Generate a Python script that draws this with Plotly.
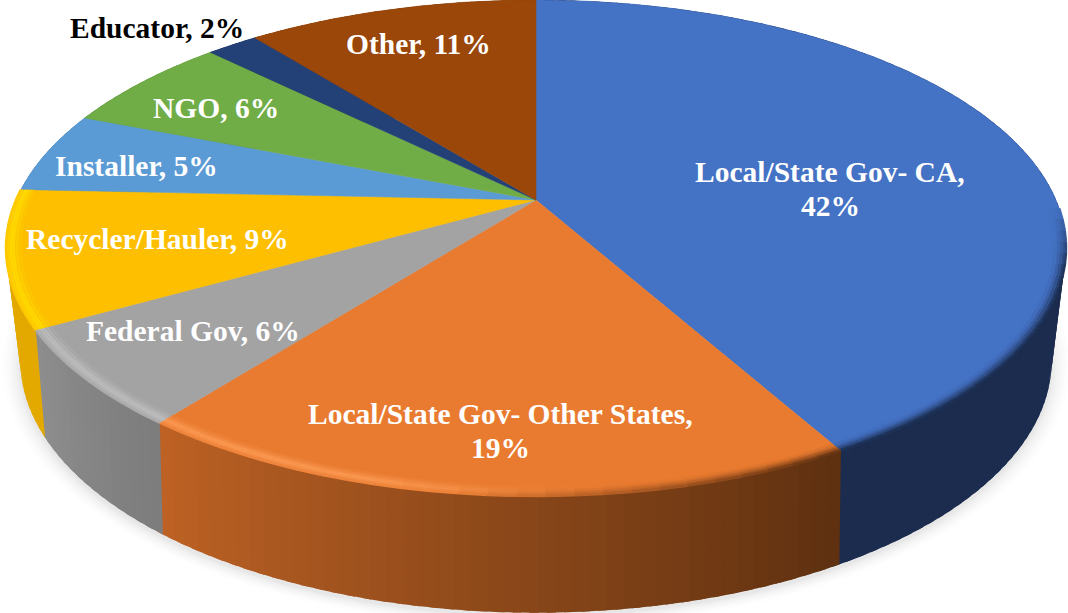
import numpy as np
import plotly.graph_objects as go

categories = ["Local/State Gov- CA", "Local/State Gov- Other States", "Federal Gov",
              "Recycler/Hauler", "Installer", "NGO", "Educator", "Other"]
values = [41.9, 18.6, 6.3, 8.9, 5.3, 6.4, 1.9, 10.7]
top_colors = ["#4472C4", "#E97B30", "#A3A3A3", "#FDBF00", "#5B9BD5", "#70AD47", "#234176", "#9A4709"]
side_left = ["#1B2C4F", "#BE6224", "#8E8E8E", "#E3A900", "#3F76A8", "#4F7C32", "#1A2F55", "#6F3307"]
side_right = ["#1B2C4F", "#5E3010", "#7C7C7C", "#E3A900", "#3F76A8", "#4F7C32", "#1A2F55", "#6F3307"]
hi_colors = ["#4472C4", "#F9954E", "#BABABA", "#FFD800"]
dark_colors = ["#1B2C4F", "#5E3010", "#8A8A8A", "#E3A900"]

# label text is placed as the reference places it (free-floating, not at slice centres)
label_pos = [(830, 172), (500, 414), (193, 331), (157, 239), (136, 166), (216, 108), (157, 28), (418, 44)]
label_break = [True, True, False, False, False, False, False, False]
label_color = ["white"] * 6 + ["black", "white"]
FONT_SIZE = 29.5
LINE_GAP = 34

# projection of the tilted disc: top face, then the lower rim of the wall
TOP = dict(cx=536.0, cy=200.0, a=520.0, b=238.7, p=0.1935)
BOT = dict(cx=536.0, cy=305.0, a=503.0, b=240.0, p=0.22)


def project(theta, g, r=1.0, grow=1.0):
    u, v = r * np.sin(theta), -r * np.cos(theta)
    w = 1 - g["p"] * v
    return g["cx"] + grow * g["a"] * u / w, g["cy"] + grow * g["b"] * v / w


def rgb(h):
    return np.array([int(h[i:i + 2], 16) for i in (1, 3, 5)], float)


def css(c):
    return "rgb(%d,%d,%d)" % tuple(np.round(c))


fig = go.Figure()


def poly(xs, ys, fill, line=None, lw=1.0):
    fig.add_trace(go.Scatter(x=list(xs), y=list(ys), mode="lines", fill="toself", fillcolor=fill,
                             line=dict(color=line or fill, width=lw), hoverinfo="skip", showlegend=False))


edges = np.cumsum([0] + values) / sum(values) * 2 * np.pi

# soft shadow under the disc
th = np.linspace(0, 2 * np.pi, 240)
for grow, op in [(1.034, 0.012), (1.027, 0.016), (1.020, 0.02), (1.014, 0.024), (1.008, 0.028), (1.003, 0.03)]:
    x, y = project(th, BOT, grow=grow)
    poly(x, y + 3, "rgba(70,70,70,%g)" % op, line="rgba(0,0,0,0)", lw=0)

# side wall: each quad runs a little under the next one, so no seams show
OVERLAP = np.radians(0.8)
for i in range(len(values)):
    a0, a1 = edges[i], edges[i + 1]
    n = max(2, int((a1 - a0) / np.radians(1.5)))
    ed = np.linspace(a0, a1, n + 1)
    for k in range(n):
        t = (k + 0.5) / n
        c = css(rgb(side_right[i]) * (1 - t) + rgb(side_left[i]) * t)
        sub = np.linspace(ed[k], ed[k + 1] + OVERLAP, 4)
        x1, y1 = project(sub, TOP)
        x2, y2 = project(sub[::-1], BOT)
        fig.add_trace(go.Scatter(x=np.r_[x1, x2, x1[0]], y=np.r_[y1, y2, y1[0]], mode="none", fill="toself",
                                 fillcolor=c, hoverinfo="skip", showlegend=False))

# top face
for i in range(len(values)):
    t = np.linspace(edges[i], edges[i + 1], max(10, int(values[i] * 6)))
    x, y = project(t, TOP)
    poly(np.r_[TOP["cx"], x, TOP["cx"]], np.r_[TOP["cy"], y, TOP["cy"]], top_colors[i], lw=0.5)

# bevel on the near edge of the top face: radius, highlight weight, shadow weight
bands = [(0.974, 0.2, 0.0), (0.980, 0.55, 0.08), (0.986, 0.95, 0.25), (0.991, 1.0, 0.5), (0.996, 0.7, 0.75), (1.0, 0.4, 0.95)]
for i in range(4):
    a0, a1 = edges[i], edges[i + 1]
    a0b = max(a0, np.radians(92))
    n = max(2, int((a1 - a0b) / np.radians(2.5)))
    ed = np.linspace(a0b, a1, n + 1)
    for r, hw, dw in bands:
        for k in range(n):
            f = (k + 0.5) / n
            if i == 0:
                hi_s, dk_s = 0.0, min(1.0, (f / 0.25))
            elif i == 1:
                hi_s, dk_s = np.clip((f - 0.35) / 0.3, 0, 1), np.clip(1 - f / 0.55, 0, 1)
            else:
                hi_s, dk_s = 1.0, 0.0
            c = rgb(top_colors[i])
            c = c + (rgb(hi_colors[i]) - c) * hw * hi_s
            c = c + (rgb(dark_colors[i]) - c) * dw * dk_s
            x, y = project(np.linspace(ed[k], ed[k + 1], 3), TOP, r=r)
            fig.add_trace(go.Scatter(x=x, y=y, mode="lines", line=dict(color=css(c), width=2.6),
                                     hoverinfo="skip", showlegend=False))

# labels
for i, (c, v) in enumerate(zip(categories, values)):
    pct = f"{round(v)}%"
    lines = [f"{c},", pct] if label_break[i] else [f"{c}, {pct}"]
    for j, txt in enumerate(lines):
        fig.add_annotation(x=label_pos[i][0], y=label_pos[i][1] + j * LINE_GAP, text=f"<b>{txt}</b>",
                           showarrow=False, xanchor="center", yanchor="middle", align="center",
                           font=dict(family="Liberation Serif", size=FONT_SIZE, color=label_color[i]))

fig.update_layout(width=1068, height=613, margin=dict(l=0, r=0, t=0, b=0),
                  paper_bgcolor="white", plot_bgcolor="white", showlegend=False,
                  xaxis=dict(range=[0, 1068], visible=False, fixedrange=True),
                  yaxis=dict(range=[613, 0], visible=False, fixedrange=True))
fig.write_html("out.html", post_script="document.body.style.margin='0';",
               config={"displayModeBar": False})
